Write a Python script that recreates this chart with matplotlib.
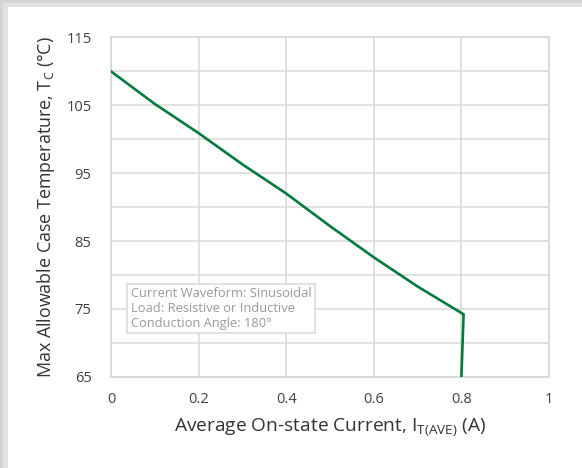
import matplotlib
matplotlib.use('Agg')
import matplotlib.pyplot as plt
from matplotlib.patches import Rectangle

# derating curve
current = [0, 0.1, 0.2, 0.3, 0.4, 0.5, 0.6, 0.7, 0.805, 0.8]
temp_c = [110, 105.2, 100.9, 96.3, 92.0, 87.2, 82.6, 78.3, 74.2, 65]

x_ticks = [0, 0.2, 0.4, 0.6, 0.8, 1]
x_labels = ['0', '0.2', '0.4', '0.6', '0.8', '1']
y_major = [65, 75, 85, 95, 105, 115]
y_minor = [70, 80, 90, 100, 110]

note = 'Current Waveform: Sinusoidal\nLoad: Resistive or Inductive\nConduction Angle: 180°'

plt.rcParams['font.family'] = ['Open Sans', 'DejaVu Sans']

fig = plt.figure(figsize=(5.82, 4.68), dpi=100)
fig.patch.set_facecolor('white')

# grey frame on the left and top edges
fig.patches.append(Rectangle((0, 0), 1, 1, transform=fig.transFigure,
                             facecolor='#d4d4d4', edgecolor='none', zorder=-3))
fig.patches.append(Rectangle((3 / 582, 0), 1, 1 - 3 / 468, transform=fig.transFigure,
                             facecolor='#e2e2e2', edgecolor='none', zorder=-2))
fig.patches.append(Rectangle((8 / 582, 0), 1, 1 - 7 / 468, transform=fig.transFigure,
                             facecolor='white', edgecolor='none', zorder=-1))

ax = fig.add_axes([0.1907, 0.195, 0.7526, 0.725])
ax.set_facecolor('white')

ax.plot(current, temp_c, color='#007a3d', linewidth=1.9, zorder=3)

ax.set_xlim(0, 1)
ax.set_ylim(65, 115)
ax.set_xticks(x_ticks)
ax.set_xticklabels(x_labels)
ax.set_yticks(y_major)
ax.set_yticks(y_minor, minor=True)

ax.grid(True, which='both', color='#d9d9d9', linewidth=1.1)
ax.set_axisbelow(True)
for s in ax.spines.values():
    s.set_color('#d9d9d9')
    s.set_linewidth(1.3)

ax.tick_params(which='both', length=0)
ax.tick_params(axis='y', pad=14, labelsize=10.5, labelcolor='#404040')
ax.tick_params(axis='x', pad=11, labelsize=10.5, labelcolor='#404040')

ax.set_xlabel('Average On-state Current, I$_{\\mathregular{T(AVE)}}$ (A)',
              fontsize=13.8, color='#333333', labelpad=7)
ax.set_ylabel('Max Allowable Case Temperature, T$_{\\mathregular{C}}$ (°C)',
              fontsize=12.9, color='#333333', labelpad=7)

ax.text(0.045, 0.265, note, transform=ax.transAxes, fontsize=9.3, color='#999999',
        va='top', ha='left', linespacing=1.2,
        bbox=dict(boxstyle='square,pad=0.25', facecolor='white', edgecolor='#d9d9d9', linewidth=1.1))

fig.savefig('out.png', dpi=100)
